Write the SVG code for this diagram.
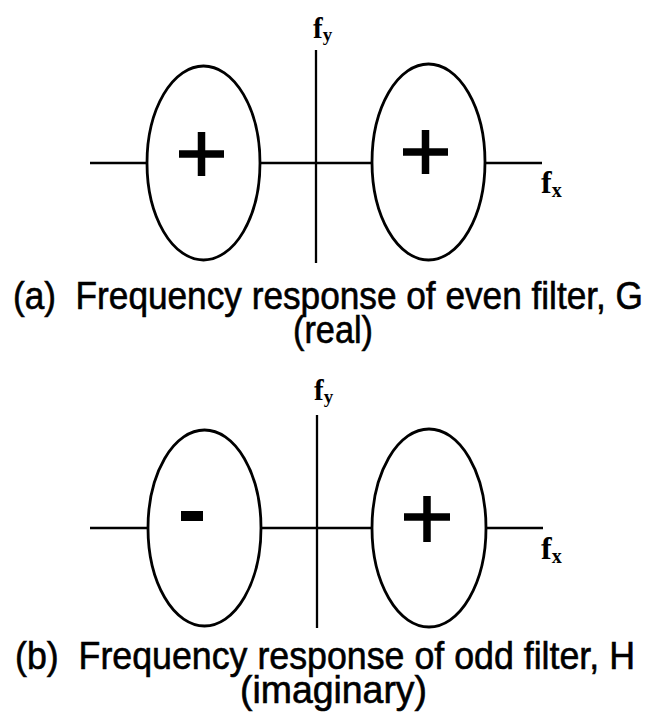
<svg xmlns="http://www.w3.org/2000/svg" width="658" height="717" viewBox="0 0 658 717">
<style>
.ax{stroke:#000;stroke-width:2.3;fill:none}
.el{stroke:#000;stroke-width:2.8;fill:none}
.sg{stroke:#000;stroke-width:7.5;fill:none}
.axl{font-family:"Liberation Serif","Times New Roman",serif;font-weight:bold;fill:#000}
.cap{font-family:"Liberation Sans",Arial,sans-serif;fill:#000;stroke:#000;stroke-width:0.6;font-size:38px}
</style>
<rect width="658" height="717" fill="#fff"/>
<g id="connectors">
<g id="axes-a">
<line class="ax" x1="90" y1="163" x2="147" y2="163"/>
<line class="ax" x1="260" y1="163" x2="372" y2="163"/>
<line class="ax" x1="485" y1="163" x2="542" y2="163"/>
<line class="ax" x1="316" y1="50" x2="316" y2="263"/>
</g>
<g id="axes-b">
<line class="ax" x1="90" y1="528" x2="148" y2="528"/>
<line class="ax" x1="261" y1="528" x2="372" y2="528"/>
<line class="ax" x1="486" y1="528" x2="543" y2="528"/>
<line class="ax" x1="317" y1="415" x2="317" y2="628"/>
</g>
</g>
<g id="a-left">
<ellipse class="el" cx="203.5" cy="163" rx="56.5" ry="97"/>
<path class="sg" d="M179 154H224M201.5 132V176"/>
</g>
<g id="a-right">
<ellipse class="el" cx="428.5" cy="162" rx="56.5" ry="98"/>
<path class="sg" d="M403 152H448M425.5 130V174"/>
</g>
<g id="a-fy"><text class="axl" x="313" y="38" font-size="29">f<tspan font-size="19" dy="3">y</tspan></text></g>
<g id="a-fx"><text class="axl" x="541" y="193" font-size="32">f<tspan font-size="20" dy="4">x</tspan></text></g>
<g id="a-caption">
<text class="cap" x="13" y="309" textLength="630" lengthAdjust="spacingAndGlyphs" xml:space="preserve">(a)  Frequency response of even filter, G</text>
<text class="cap" x="293" y="343" textLength="80" lengthAdjust="spacingAndGlyphs">(real)</text>
</g>
<g id="b-left">
<ellipse class="el" cx="204.5" cy="528" rx="56.5" ry="98"/>
<rect x="181" y="511" width="22" height="10" fill="#000"/>
</g>
<g id="b-right">
<ellipse class="el" cx="429" cy="528" rx="57" ry="99"/>
<path class="sg" d="M404 517H450M427 496V542"/>
</g>
<g id="b-fy"><text class="axl" x="314" y="400" font-size="29">f<tspan font-size="19" dy="3">y</tspan></text></g>
<g id="b-fx"><text class="axl" x="541" y="559" font-size="32">f<tspan font-size="20" dy="4">x</tspan></text></g>
<g id="b-caption">
<text class="cap" x="15" y="669" textLength="620" lengthAdjust="spacingAndGlyphs" xml:space="preserve">(b)  Frequency response of odd filter, H</text>
<text class="cap" x="240" y="703" textLength="187" lengthAdjust="spacingAndGlyphs">(imaginary)</text>
</g>
</svg>
